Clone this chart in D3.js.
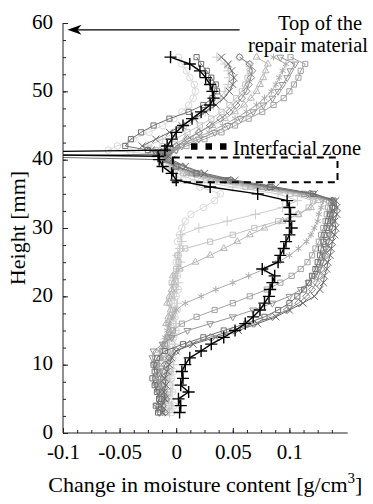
<!DOCTYPE html>
<html>
<head>
<meta charset="utf-8">
<script src="https://cdn.jsdelivr.net/npm/d3@7"></script>
</head>
<body style="margin:0;background:#fff">
<svg id="chart" width="373" height="504" style="font-family:'Liberation Serif',serif"></svg>
<script>
// heights [mm] shared by every profile (extra points around the interface at 41 mm)
const heights = [3, 4, 5, 6, 7, 8, 9, 10, 11, 12,
  13, 14, 15, 16, 17, 18, 19, 20, 21, 22,
  23, 24, 25, 26, 27, 28, 29, 30, 31, 32,
  33, 34, 35, 36, 37, 38, 39, 40,
  40.5, 40.8, 41.1, 41.4,
  42, 43, 44, 45, 46, 47, 48, 49, 50, 51, 52, 53, 54, 55];

// change in moisture content [g/cm3], one array per profile
const profA = [-0.004, -0.002, -0.005, -0.003, -0.006, -0.004, -0.002, -0.005, -0.003, -0.001,
  -0.004, -0.002, 0.000, -0.003, -0.001, 0.001, -0.002, 0.000, 0.002, -0.001,
  0.001, 0.003, 0.000, 0.002, 0.004, 0.001, 0.003, 0.005, 0.008, 0.013,
  0.024, 0.034, 0.039, 0.021, 0.006, -0.002, -0.006, -0.010,
  -0.012, -0.020, -0.040, -0.060,
  -0.052, -0.038, -0.024, -0.012, -0.002, 0.005, 0.011, 0.015, 0.017, 0.016, 0.012, 0.009, 0.005, 0.002];
const profB = [-0.006, -0.004, -0.007, -0.005, -0.003, -0.006, -0.004, -0.002, -0.005, -0.003,
  -0.001, -0.004, -0.002, 0.000, -0.003, -0.001, 0.001, -0.002, 0.000, 0.002,
  0.000, 0.002, 0.004, 0.001, 0.003, 0.005, 0.004, 0.020, 0.045, 0.070,
  0.094, 0.107, 0.090, 0.050, 0.016, 0.001, -0.005, -0.009,
  -0.011, -0.014, -0.018, -0.022,
  -0.025, -0.012, -0.001, 0.009, 0.018, 0.026, 0.033, 0.039, 0.043, 0.046, 0.047, 0.046, 0.043, 0.036];
const profC = [-0.008, -0.006, -0.009, -0.007, -0.010, -0.008, -0.006, -0.009, -0.007, -0.005,
  -0.008, -0.006, -0.004, -0.007, -0.005, -0.003, -0.006, -0.004, -0.002, -0.004,
  -0.001, 0.000, 0.002, 0.001, 0.008, 0.030, 0.050, 0.069, 0.090, 0.108,
  0.117, 0.121, 0.101, 0.061, 0.026, 0.006, -0.004, -0.010,
  -0.012, -0.014, -0.016, -0.018,
  -0.012, -0.001, 0.010, 0.021, 0.031, 0.040, 0.047, 0.053, 0.058, 0.061, 0.063, 0.065, 0.064, 0.056];
const profD = [-0.010, -0.012, -0.009, -0.011, -0.013, -0.010, -0.008, -0.011, -0.009, -0.007,
  -0.010, -0.008, -0.006, -0.009, -0.007, -0.005, -0.008, -0.006, -0.004, -0.002,
  -0.003, 0.003, 0.017, 0.030, 0.042, 0.054, 0.065, 0.078, 0.094, 0.108,
  0.119, 0.125, 0.106, 0.066, 0.031, 0.009, -0.003, -0.010,
  -0.011, -0.012, -0.013, -0.010,
  -0.005, 0.008, 0.020, 0.032, 0.043, 0.052, 0.060, 0.066, 0.071, 0.074, 0.077, 0.079, 0.081, 0.071];
const profE = [-0.012, -0.014, -0.011, -0.013, -0.015, -0.012, -0.014, -0.016, -0.013, -0.015,
  -0.012, -0.010, -0.008, -0.006, -0.003, 0.000, 0.008, 0.022, 0.035, 0.050,
  0.064, 0.078, 0.090, 0.100, 0.108, 0.115, 0.119, 0.122, 0.125, 0.126,
  0.128, 0.130, 0.111, 0.071, 0.036, 0.011, -0.002, -0.009,
  -0.010, -0.011, -0.010, -0.007,
  0.001, 0.015, 0.029, 0.041, 0.052, 0.062, 0.071, 0.078, 0.084, 0.088, 0.091, 0.094, 0.097, 0.086];
const profF = [-0.014, -0.012, -0.015, -0.013, -0.016, -0.018, -0.015, -0.017, -0.014, -0.012,
  -0.010, -0.007, -0.003, 0.005, 0.018, 0.034, 0.050, 0.065, 0.080, 0.092,
  0.102, 0.110, 0.116, 0.120, 0.123, 0.126, 0.128, 0.130, 0.132, 0.133,
  0.134, 0.135, 0.113, 0.076, 0.041, 0.014, 0.000, -0.009,
  -0.010, -0.009, -0.006, -0.001,
  0.009, 0.025, 0.040, 0.052, 0.064, 0.076, 0.086, 0.095, 0.100, 0.104, 0.108, 0.110, 0.114, 0.101];
const profG = [-0.015, -0.017, -0.014, -0.016, -0.018, -0.016, -0.017, -0.019, -0.021, -0.020,
  -0.012, -0.004, 0.010, 0.030, 0.050, 0.068, 0.085, 0.100, 0.110, 0.117,
  0.122, 0.125, 0.128, 0.130, 0.132, 0.133, 0.135, 0.136, 0.137, 0.137,
  0.138, 0.137, 0.116, 0.079, 0.043, 0.016, 0.002, -0.008,
  -0.009, -0.008, -0.005, 0.000,
  0.005, 0.020, 0.034, 0.046, 0.057, 0.068, 0.077, 0.085, 0.090, 0.094, 0.098, 0.101, 0.105, 0.092];
const profH = [-0.016, -0.018, -0.015, -0.017, -0.019, -0.021, -0.019, -0.020, -0.017, -0.010,
  0.006, 0.024, 0.042, 0.062, 0.078, 0.090, 0.100, 0.107, 0.113, 0.117,
  0.120, 0.123, 0.125, 0.127, 0.128, 0.130, 0.131, 0.133, 0.134, 0.136,
  0.138, 0.139, 0.121, 0.083, 0.046, 0.018, 0.000, -0.012,
  -0.150, -0.013, -0.018, -0.025,
  -0.045, -0.040, -0.031, -0.020, -0.006, 0.011, 0.024, 0.032, 0.036, 0.035, 0.031, 0.027, 0.022, 0.018];
const profI = [-0.010, -0.012, -0.009, -0.011, -0.013, -0.014, -0.012, -0.010, -0.006, 0.000,
  0.012, 0.030, 0.050, 0.068, 0.085, 0.098, 0.108, 0.115, 0.120, 0.124,
  0.126, 0.128, 0.130, 0.131, 0.133, 0.135, 0.136, 0.138, 0.138, 0.139,
  0.140, 0.138, 0.118, 0.082, 0.048, 0.022, 0.006, -0.006,
  -0.008, -0.009, -0.007, -0.004,
  0.000, 0.010, 0.020, 0.030, 0.039, 0.047, 0.053, 0.058, 0.062, 0.064, 0.066, 0.067, 0.065, 0.056];
const profJ = [-0.012, -0.013, -0.010, -0.011, -0.009, -0.010, -0.008, -0.006, -0.004, 0.000,
  0.015, 0.035, 0.055, 0.072, 0.088, 0.100, 0.112, 0.122, 0.127, 0.130,
  0.131, 0.133, 0.134, 0.136, 0.137, 0.138, 0.140, 0.141, 0.140, 0.142,
  0.142, 0.141, 0.122, 0.088, 0.052, 0.025, 0.008, -0.004,
  -0.007, -0.011, -0.016, -0.022,
  -0.030, -0.018, -0.006, 0.005, 0.016, 0.026, 0.035, 0.042, 0.047, 0.050, 0.051, 0.049, 0.046, 0.040];
const profK = [0.003, 0.004, 0.002, 0.011, 0.004, 0.006, 0.005, 0.008, 0.012, 0.022,
  0.031, 0.042, 0.052, 0.061, 0.068, 0.074, 0.078, 0.082, 0.083, 0.085,
  0.087, 0.076, 0.090, 0.092, 0.095, 0.097, 0.100, 0.102, 0.100, 0.101,
  0.100, 0.098, 0.072, 0.030, 0.000, -0.004, -0.012, -0.015,
  -0.016, -0.160, -0.160, -0.010,
  -0.008, -0.004, 0.000, 0.006, 0.014, 0.022, 0.030, 0.033, 0.032, 0.030, 0.026, 0.021, 0.012, -0.005];

const xTicks = [-0.1, -0.05, 0, 0.05, 0.1];
const yTicks = [0, 10, 20, 30, 40, 50, 60];

// drawing styles, lightest first so the black profile ends on top
const series = [
  { values: profA, color: "#d9d9d9", symbol: "circle" },
  { values: profB, color: "#cdcdcd", symbol: "plus" },
  { values: profC, color: "#c2c2c2", symbol: "square" },
  { values: profD, color: "#b8b8b8", symbol: "triangle" },
  { values: profE, color: "#acacac", symbol: "asterisk" },
  { values: profF, color: "#a2a2a2", symbol: "square" },
  { values: profG, color: "#969696", symbol: "triDown" },
  { values: profI, color: "#878787", symbol: "diamond" },
  { values: profJ, color: "#6a6a6a", symbol: "times" },
  { values: profH, color: "#717171", symbol: "square" },
  { values: profK, color: "#000000", symbol: "plus", width: 1.4, size: 50 }
];

const FONT = "Liberation Serif";

const svg = d3.select("#chart");

const x = d3.scaleLinear().domain([-0.1, 0.15]).range([63, 346]);
const y = d3.scaleLinear().domain([0, 60]).range([433, 23]);

const symbols = {
  circle: d3.symbolCircle,
  plus: d3.symbolPlus || d3.symbolCross,
  square: d3.symbolSquare2 || d3.symbolSquare,
  triangle: d3.symbolTriangle2 || d3.symbolTriangle,
  triDown: d3.symbolTriangle2 || d3.symbolTriangle,
  asterisk: d3.symbolAsterisk || d3.symbolStar,
  diamond: d3.symbolDiamond2 || d3.symbolDiamond,
  times: d3.symbolTimes || d3.symbolX || d3.symbolCross
};

svg.append("defs").append("clipPath").attr("id", "plotclip")
  .append("rect").attr("x", x(-0.1)).attr("y", 0).attr("width", 373 - x(-0.1)).attr("height", y(0));

const plot = svg.append("g").attr("clip-path", "url(#plotclip)");

const line = d3.line()
  .x(d => x(d[1]))
  .y(d => y(d[0]));

series.forEach(s => {
  const pts = heights.map((h, i) => [h, s.values[i]]);
  const g = plot.append("g");
  g.append("path")
    .datum(pts)
    .attr("fill", "none")
    .attr("stroke", s.color)
    .attr("stroke-width", s.width || 1)
    .attr("d", line);
  const sym = d3.symbol().type(symbols[s.symbol]).size(s.size || 34);
  g.selectAll("path.mk")
    .data(pts)
    .join("path")
    .attr("class", "mk")
    .attr("d", sym)
    .attr("fill", "none")
    .attr("stroke", s.color)
    .attr("stroke-width", s.width || 1)
    .attr("transform", d => `translate(${x(d[1])},${y(d[0])})` + (s.symbol === "triDown" ? " rotate(180)" : ""));
});

// interfacial zone box
plot.append("rect")
  .attr("x", x(-0.003))
  .attr("y", y(40.3))
  .attr("width", x(0.1425) - x(-0.003))
  .attr("height", y(36.7) - y(40.3))
  .attr("fill", "none")
  .attr("stroke", "#000")
  .attr("stroke-width", 2)
  .attr("stroke-dasharray", "7,5");

// axes
const xAxis = d3.axisBottom(x).tickValues(xTicks).tickSize(-5).tickPadding(11).tickFormat(d => String(d));
const xMinor = d3.axisBottom(x).tickValues(d3.range(-0.1, 0.145, 0.0125)).tickSize(-3).tickFormat("");
const yAxis = d3.axisLeft(y).tickValues(yTicks).tickSize(-5).tickPadding(10).tickFormat(d => String(d));
const yMinor = d3.axisLeft(y).tickValues(d3.range(0, 60.1, 2.5)).tickSize(-3).tickFormat("");

function styleAxis(g) {
  g.attr("font-family", FONT).attr("font-size", 21);
  g.select(".domain").remove();
  g.selectAll("line").attr("stroke", "#222");
  g.selectAll("text").attr("font-family", FONT).attr("fill", "#000");
}

svg.append("g").attr("transform", `translate(0,${y(0)})`).call(xMinor).call(styleAxis);
svg.append("g").attr("transform", `translate(0,${y(0)})`).call(xAxis).call(styleAxis);
svg.append("g").attr("transform", `translate(${x(-0.1)},0)`).call(yMinor).call(styleAxis);
svg.append("g").attr("transform", `translate(${x(-0.1)},0)`).call(yAxis).call(styleAxis)
  .selectAll("text").attr("dy", "0.24em");

svg.append("line")
  .attr("x1", x(-0.1)).attr("x2", x(0.1515))
  .attr("y1", y(0)).attr("y2", y(0))
  .attr("stroke", "#222");
svg.append("line")
  .attr("x1", x(-0.1)).attr("x2", x(-0.1))
  .attr("y1", y(0)).attr("y2", y(60))
  .attr("stroke", "#222");

// axis titles
svg.append("text")
  .attr("transform", `translate(25,${(y(0) + y(60)) / 2}) rotate(-90)`)
  .attr("text-anchor", "middle")
  .attr("font-family", FONT)
  .attr("font-size", 22)
  .text("Height [mm]");

const xt = svg.append("text")
  .attr("x", (x(-0.1) + x(0.1515)) / 2)
  .attr("y", 492)
  .attr("text-anchor", "middle")
  .attr("font-family", FONT)
  .attr("font-size", 22);
xt.append("tspan").text("Change in moisture content [g/cm");
xt.append("tspan").attr("font-size", 15).attr("dy", -9).text("3");
xt.append("tspan").attr("dy", 9).text("]");

// annotation: top of the repair material
const arrowY = 59;
const arrowFrom = 0.056;
const arrowTo = -0.096;
svg.append("line")
  .attr("x1", x(arrowFrom)).attr("x2", x(arrowTo) + 8)
  .attr("y1", y(arrowY)).attr("y2", y(arrowY))
  .attr("stroke", "#000").attr("stroke-width", 1.2);
svg.append("path")
  .attr("transform", `translate(${x(arrowTo)},${y(arrowY)})`)
  .attr("d", "M0,0 L14,-5 L10,0 L14,5 Z")
  .attr("fill", "#000");

svg.append("text").attr("x", 362).attr("y", 30).attr("text-anchor", "end")
  .attr("font-family", FONT).attr("font-size", 20.5).text("Top of the");
svg.append("text").attr("x", 368).attr("y", 52).attr("text-anchor", "end")
  .attr("font-family", FONT).attr("font-size", 20.5).text("repair material");

// annotation: interfacial zone legend
svg.append("line")
  .attr("x1", 191).attr("x2", 230)
  .attr("y1", 146.5).attr("y2", 146.5)
  .attr("stroke", "#000").attr("stroke-width", 6.5)
  .attr("stroke-dasharray", "6.5,8");
svg.append("text").attr("x", 233).attr("y", 155)
  .attr("font-family", FONT).attr("font-size", 20.5).text("Interfacial zone");
</script>
</body>
</html>
